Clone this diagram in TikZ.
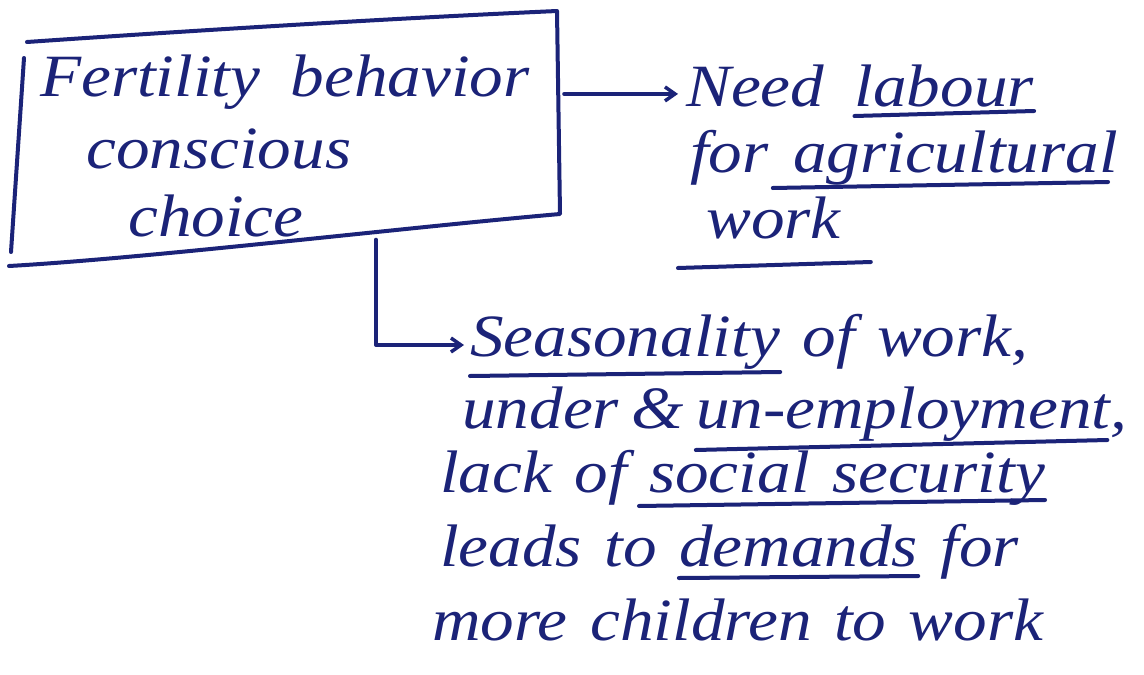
\documentclass[tikz,border=0pt]{standalone}
\usepackage{fontspec}
\setmainfont[FakeStretch=1.12]{Liberation Serif}
\usetikzlibrary{calc,arrows.meta}
\definecolor{ink}{HTML}{1B2378}
\begin{document}
\begin{tikzpicture}[x=1pt,y=-1pt,
  pen/.style={draw=ink,line width=4pt,line cap=round,line join=round},
  word/.style={inner sep=0pt,anchor=base west,text=ink,
    font=\fontsize{60}{68}\selectfont\itshape},
  tip/.style={-{Straight Barb[length=10pt,width=14pt,line width=3.5pt]}}]
\useasboundingbox (0,0) rectangle (1144,675);
\fill[white] (0,0) rectangle (1144,675);

% central box and its text
\node[inner sep=0pt,minimum width=540pt,minimum height=205pt] (box) at (288,135) {};
\draw[pen] (27,42) .. controls (200,30) and (400,18) .. (557,11)
           -- (560,214)
           .. controls (400,228) and (150,258) .. (9,266);
\draw[pen] (24,58) -- (11,252);
\node[word] (f1) at (40,96) {Fertility};
\node[word] (f2) at ([xshift=30pt]f1.base east) {behavior};
\node[word] (c1) at (86,168) {conscious};
\node[word] (c2) at (128,236) {choice};

% first consequence
\node[word] (n1) at (686,106) {Need};
\node[word] (n2) at ([xshift=30pt]n1.base east) {labour};
\node[word] (a1) at (690,172) {for};
\node[word] (a2) at ([xshift=24pt]a1.base east) {agricultural};
\node[word] (w1) at (706,238) {work};
\draw[pen] ([yshift=-10pt]n2.base west) -- ([yshift=-5pt]n2.base east);
\draw[pen] ([xshift=-20pt,yshift=-16pt]a2.base west) -- ([xshift=-10pt,yshift=-10pt]a2.base east);
\draw[pen] ([xshift=-28pt,yshift=-30pt]w1.base west) -- ([xshift=30pt,yshift=-24pt]w1.base east);

% second consequence
\node[word] (s1) at (470,356) {Seasonality};
\node[word] (s2) at ([xshift=22pt]s1.base east) {of};
\node[word] (s3) at ([xshift=22pt]s2.base east) {work,};
\node[word] (u1) at (462,428) {under};
\node[word] (u2) at ([xshift=12pt]u1.base east) {\&};
\node[word] (u3) at ([xshift=12pt]u2.base east) {un-employment,};
\node[word] (l1) at (440,492) {lack};
\node[word] (l2) at ([xshift=22pt]l1.base east) {of};
\node[word] (l3) at ([xshift=22pt]l2.base east) {social};
\node[word] (l4) at ([xshift=22pt]l3.base east) {security};
\node[word] (d1) at (440,566) {leads};
\node[word] (d2) at ([xshift=22pt]d1.base east) {to};
\node[word] (d3) at ([xshift=22pt]d2.base east) {demands};
\node[word] (d4) at ([xshift=22pt]d3.base east) {for};
\node[word] (m1) at (432,640) {more};
\node[word] (m2) at ([xshift=22pt]m1.base east) {children};
\node[word] (m3) at ([xshift=22pt]m2.base east) {to};
\node[word] (m4) at ([xshift=22pt]m3.base east) {work};
\draw[pen] ([yshift=-20pt]s1.base west) -- ([yshift=-16pt]s1.base east);
\draw[pen] ([yshift=-22pt]u3.base west) -- ([xshift=-20pt,yshift=-12pt]u3.base east);
\draw[pen] ([xshift=-10pt,yshift=-14pt]l3.base west) -- ([yshift=-8pt]l4.base east);
\draw[pen] ([yshift=-12pt]d3.base west) -- ([yshift=-10pt]d3.base east);

% connectors
\coordinate (b1) at ($(box.north east)!0.3!(box.south east)$);
\draw[pen,tip] ([xshift=6pt]b1) -- ([xshift=-8pt]n1.west |- b1);
\coordinate (b2) at ([xshift=88pt,yshift=-2pt]box.south);
\draw[pen,tip] (b2) |- ([xshift=-6pt,yshift=11pt]s1.base west);
\end{tikzpicture}
\end{document}
